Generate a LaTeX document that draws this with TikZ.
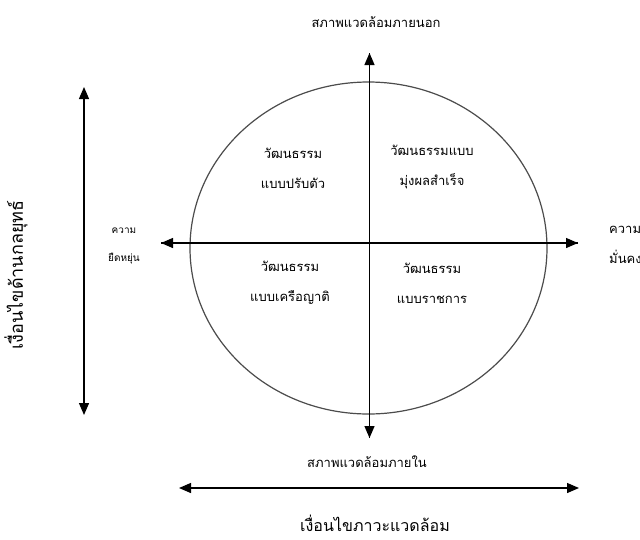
\documentclass[tikz,border=0pt]{standalone}
\usepackage{fontspec}
\newfontfamily\thaifont[Script=Thai]{Loma}
\usetikzlibrary{arrows.meta,shapes.geometric}
\begin{document}
\begin{tikzpicture}[x=1pt,y=-1pt,
  arr/.style={line width=1.3pt,-{Triangle[length=12pt,width=10pt]}},
  darr/.style={line width=1.3pt,{Triangle[length=12pt,width=10pt]}-{Triangle[length=12pt,width=10pt]}},
  lbl/.style={font=\thaifont\fontsize{13}{16}\selectfont,inner sep=0pt},
  quad/.style={font=\thaifont\fontsize{13}{30}\selectfont,inner sep=0pt,align=center},
  small/.style={font=\thaifont\fontsize{10}{28}\selectfont,inner sep=0pt,align=center}]
\useasboundingbox[fill=white] (0,0) rectangle (640,539);
% ellipse
\node[ellipse,draw=black!70,line width=1.2pt,minimum width=357pt,minimum height=332pt,inner sep=0pt] (ell) at (368.5,248) {};
% axes
\coordinate (vt) at (369.5,53);
\coordinate (vb) at (369.5,438);
\coordinate (hl) at (161,243);
\coordinate (hr) at (578,243);
\draw[arr] (vb) -- (vt);
\draw[arr] (vt) -- (vb);
\draw[arr] (hr) -- (hl);
\draw[arr] (hl) -- (hr);
% side arrows
\coordinate (lt) at (84,87);
\coordinate (lb) at (84,415);
\draw[darr] (lt) -- (lb);
\coordinate (bl) at (179,488);
\coordinate (br) at (579,488);
\draw[darr] (bl) -- (br);
% labels
\node[lbl] (top) at (376,22) {สภาพแวดล้อมภายนอก};
\node[lbl] (bot) at (367,462) {สภาพแวดล้อมภายใน};
\node[font=\thaifont\fontsize{16}{20}\selectfont,inner sep=0pt] (cond) at (375,523) {เงื่อนไขภาวะแวดล้อม};
\node[font=\thaifont\fontsize{18}{20}\selectfont,inner sep=0pt,rotate=90] (strat) at (16,275) {เงื่อนไขด้านกลยุทธ์};
\node[quad] (q1) at (293,168) {วัฒนธรรม\\แบบปรับตัว};
\node[quad] (q2) at (432,167) {วัฒนธรรมแบบ\\มุ่งผลสำเร็จ};
\node[quad] (q3) at (290,283) {วัฒนธรรม\\แบบเครือญาติ};
\node[quad] (q4) at (432,283) {วัฒนธรรม\\แบบราชการ};
\node[small] (flex) at (124,246) {ความ\\ยืดหยุ่น};
\node[quad,align=left,anchor=west] (stab) at (609,245) {ความ\\มั่นคง};
\end{tikzpicture}
\end{document}
